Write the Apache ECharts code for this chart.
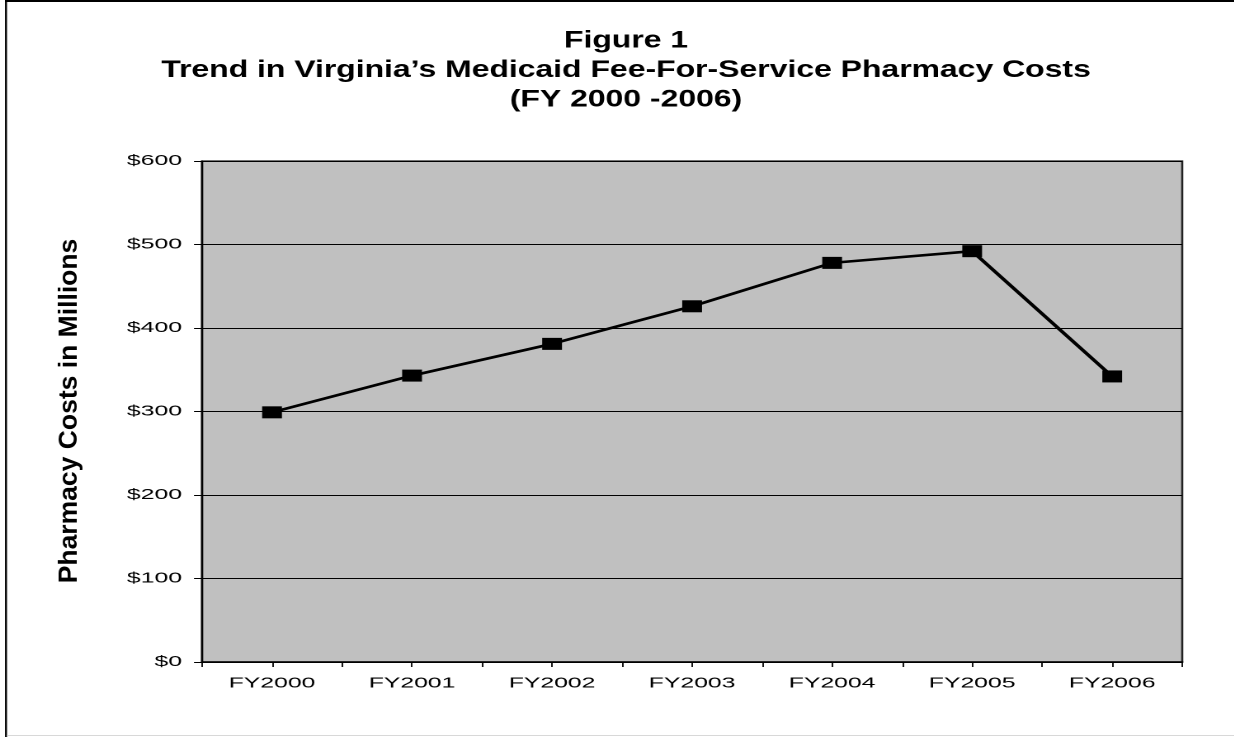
<!DOCTYPE html>
<html>
<head>
<meta charset="utf-8">
<style>
  html, body { margin: 0; padding: 0; background: #ffffff; overflow: hidden; }
  #stage { width: 1235px; height: 737px; overflow: hidden; }
  /* chart is laid out narrow and widened horizontally */
  #chart { height: 737px; transform-origin: 0 0; }
</style>
<script src="https://cdn.jsdelivr.net/npm/echarts@6/dist/echarts.min.js"></script>
</head>
<body>
<div id="stage"><div id="chart"></div></div>
<script>
// Fiscal years and fee-for-service pharmacy costs ($ millions)
const years = ['FY2000', 'FY2001', 'FY2002', 'FY2003', 'FY2004', 'FY2005', 'FY2006'];
const costs = [299, 343, 381, 426, 478, 492, 342];
const yTicks = { min: 0, max: 600, step: 100 };

const titleLines = [
  'Figure 1',
  'Trend in Virginia\u2019s Medicaid Fee-For-Service Pharmacy Costs',
  '(FY 2000 -2006)'
];
const yAxisTitle = 'Pharmacy Costs in Millions';

const FONT = '"Liberation Sans", Arial, Helvetica, sans-serif';
const PAGE_W = 1235;
const PAGE_H = 737;
const SX = 1.65;                 // horizontal widening of the whole figure
const TITLE_SX = 1.33;           // the heading is widened less
const W = PAGE_W / SX;           // layout width before widening
const px = v => v / SX;          // page x-distance -> layout x-distance

const el = document.getElementById('chart');
el.style.width = W + 'px';
el.style.transform = 'scaleX(' + SX + ')';

const chart = echarts.init(el, null, { renderer: 'canvas', devicePixelRatio: 2 });

chart.setOption({
  backgroundColor: '#ffffff',
  animation: false,
  textStyle: { fontFamily: FONT },
  graphic: [
    // outer frame
    { type: 'rect', shape: { x: px(5), y: 0, width: px(2), height: PAGE_H }, style: { fill: '#000000' }, silent: true },
    { type: 'rect', shape: { x: px(5), y: 0, width: W, height: 2 }, style: { fill: '#000000' }, silent: true },
    { type: 'rect', shape: { x: px(7), y: PAGE_H - 2, width: W, height: 1 }, style: { fill: '#d8d8d8' }, silent: true },
    // heading
    {
      type: 'text',
      x: px(626),
      y: 26,
      scaleX: TITLE_SX / SX,
      silent: true,
      style: {
        text: titleLines.join('\n'),
        x: 0,
        y: 0,
        textAlign: 'center',
        textVerticalAlign: 'top',
        fontFamily: FONT,
        fontSize: 24,
        fontWeight: 'bold',
        lineHeight: 29.5,
        fill: '#000000'
      }
    },
    // vertical axis title, kept at natural proportions
    {
      type: 'text',
      x: px(69),
      y: 411,
      rotation: Math.PI / 2,
      scaleY: 1 / SX,
      silent: true,
      style: {
        text: yAxisTitle,
        x: 0,
        y: 0,
        textAlign: 'center',
        textVerticalAlign: 'middle',
        fontFamily: FONT,
        fontSize: 26.5,
        fontWeight: 'bold',
        fill: '#000000'
      }
    }
  ],
  grid: {
    left: px(202),
    top: 161,
    right: px(52),
    bottom: 75,
    show: true,
    backgroundColor: '#c0c0c0',
    borderColor: '#222222',
    borderWidth: 1.3
  },
  xAxis: [
    {
      type: 'category',
      data: years,
      boundaryGap: true,
      axisLine: { show: true, lineStyle: { color: '#000000', width: 1.5 } },
      axisTick: { show: true, interval: 0, length: 5, lineStyle: { color: '#000000', width: px(1.5) } },
      axisLabel: { show: true, interval: 0, color: '#000000', fontSize: 15, margin: 14, fontFamily: FONT },
      splitLine: { show: false }
    },
    {
      type: 'category',
      data: years,
      position: 'bottom',
      boundaryGap: true,
      axisLine: { show: false },
      axisTick: { show: true, alignWithLabel: true, interval: 0, length: 5, lineStyle: { color: '#000000', width: px(1.5) } },
      axisLabel: { show: false },
      splitLine: { show: false }
    }
  ],
  yAxis: {
    type: 'value',
    min: yTicks.min,
    max: yTicks.max,
    interval: yTicks.step,
    axisLine: { show: true, lineStyle: { color: '#000000', width: px(2) } },
    axisTick: { show: true, length: px(8), lineStyle: { color: '#000000', width: 1 } },
    axisLabel: {
      color: '#000000',
      fontSize: 15,
      margin: px(20),
      fontFamily: FONT,
      formatter: v => '$' + v
    },
    splitLine: { show: true, lineStyle: { color: '#000000', width: 1 } }
  },
  series: [
    {
      type: 'line',
      data: costs,
      xAxisIndex: 0,
      symbol: 'rect',
      symbolSize: [12, 12],
      itemStyle: { color: '#000000' },
      lineStyle: { color: '#000000', width: 2.6 },
      emphasis: { disabled: true }
    }
  ]
});
</script>
</body>
</html>
